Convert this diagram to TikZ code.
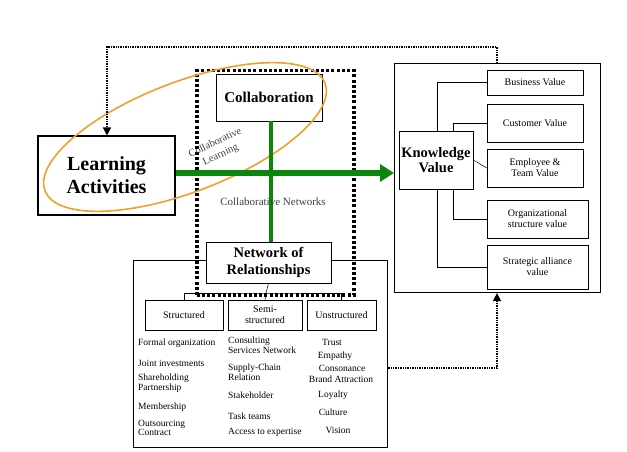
\documentclass[tikz,border=0pt]{standalone}
\usepackage{fontspec}
\setmainfont{Liberation Serif}
\usetikzlibrary{arrows.meta,shapes.geometric}
\definecolor{dg}{RGB}{10,135,10}
\definecolor{org}{RGB}{240,160,40}
\begin{document}
\begin{tikzpicture}[x=1pt,y=-1pt,
 box/.style={draw,line width=0.6pt,inner sep=0pt},
 bx/.style={draw,line width=1.1pt,inner sep=0pt},
 sm/.style={font=\fontsize{9.5}{9.5}\selectfont,align=left,anchor=west,inner sep=0pt},
 sb/.style={draw,line width=0.5pt,font=\fontsize{10}{11}\selectfont,align=center,inner sep=0pt},
 ga/.style={dg,line width=6.5pt,-{Triangle[length=14pt,width=17pt]}},
 ga2/.style={dg,line width=3.5pt,-{Triangle[length=9pt,width=11pt]}},
 dot/.style={densely dotted,line width=1.4pt}]
\useasboundingbox (0,0) rectangle (627,452);
% Knowledge value area
\node[bx,minimum width=206,minimum height=229,anchor=north west] (kvb) at (394,63) {};
\node[box,minimum width=74,minimum height=58,font=\bfseries\fontsize{14.5}{15.5}\selectfont,align=center] (kv) at (436,160) {Knowledge\\Value};
\node[sb,minimum width=96,minimum height=25] (bv) at (535,82.5) {Business Value};
\node[sb,minimum width=96,minimum height=38] (cv) at (535,123) {Customer Value};
\node[sb,minimum width=96,minimum height=38] (ev) at (535,168) {Employee \&\\Team Value};
\node[sb,minimum width=101,minimum height=38] (ov) at (537.5,219) {Organizational\\structure value};
\node[sb,minimum width=101,minimum height=44] (sv) at (537.5,267) {Strategic alliance\\value};
\draw[line width=0.5pt] (kv.north -| 437,0) |- (bv.west);
\draw[line width=0.5pt] (kv.north -| 453,0) |- (cv.west);
\draw[line width=0.5pt] (kv.east) -- (ev.west);
\draw[line width=0.5pt] (kv.south -| 453,0) |- (ov.west);
\draw[line width=0.5pt] (kv.south -| 437,0) |- (sv.west);
% Bottom box
\node[bx,minimum width=254,minimum height=187,anchor=north west] (nb) at (133,260) {};
% dotted rectangle
\node[draw,dash pattern=on 3pt off 2.2pt,line width=3.5pt,minimum width=157,minimum height=224,anchor=north west,inner sep=0pt] (dr) at (195,69) {};
\node[box,fill=white,minimum width=106,minimum height=47,font=\bfseries\fontsize{15}{16}\selectfont] (col) at (269,97.5) {Collaboration};
\node[box,fill=white,minimum width=125,minimum height=41,font=\bfseries\fontsize{14.5}{17}\selectfont,align=center] (nr) at (268.5,262.5) {Network of\\Relationships};
\node[bx,minimum width=137,minimum height=79,font=\bfseries\fontsize{20}{23}\selectfont,align=center] (la) at (106.5,175.5) {Learning\\Activities};
\node[sb,minimum width=78,minimum height=30] (st) at (184,315) {Structured};
\node[sb,minimum width=74,minimum height=30] (ss) at (265,315) {Semi-\\structured};
\node[sb,minimum width=69,minimum height=30] (us) at (341.5,315) {Unstructured};
\coordinate (j) at (266,293);
\draw[line width=0.5pt] (nr.south) -- (j);
\draw[line width=0.5pt] (st.north) |- (j) -| (us.north);
\draw[line width=0.5pt] (j) -- (ss.north);
% lists
\node[sm] (a1) at (138,343) {Formal organization};
\node[sm] (a2) at (138,363) {Joint investments};
\node[sm,font=\fontsize{9.5}{8}\selectfont] (a3) at (138,383) {Shareholding\\Partnership};
\node[sm] (a4) at (138,407) {Membership};
\node[sm,font=\fontsize{9.5}{8}\selectfont] (a5) at (138,428) {Outsourcing\\Contract};
\node[sm,font=\fontsize{9.5}{8}\selectfont] (b1) at (228,345) {Consulting\\Services Network};
\node[sm,font=\fontsize{9.5}{8}\selectfont] (b2) at (228,372) {Supply-Chain\\Relation};
\node[sm] (b3) at (228,395) {Stakeholder};
\node[sm] (b4) at (228,416) {Task teams};
\node[sm] (b5) at (228,432) {Access to expertise};
\node[sm,anchor=center] (c1) at (332,342) {Trust};
\node[sm,anchor=center] (c2) at (335,356) {Empathy};
\node[sm,anchor=center] (c3) at (342,368) {Consonance};
\node[sm,anchor=center] (c4) at (341,379) {Brand Attraction};
\node[sm,anchor=center] (c5) at (333,395) {Loyalty};
\node[sm,anchor=center] (c6) at (333,412) {Culture};
\node[sm,anchor=center] (c7) at (338,430) {Vision};
% ellipse
\node[draw=org,line width=1.6pt,ellipse,minimum width=300,minimum height=110,rotate=21,inner sep=0pt] (el) at (185,137) {};
% green arrows
\coordinate (x) at (271,173);
\draw[ga] (la.east|-x) -- (kvb.west|-x);
\draw[ga2] (col.south-|x) -- ([yshift=-6]x);
\draw[ga2] (nr.north-|x) -- ([yshift=6]x);
\node[font=\fontsize{11}{11}\selectfont,text=black!75] (cn) at (273,202) {Collaborative Networks};
\node[font=\fontsize{10.5}{13}\selectfont,text=black!75,rotate=25,align=center] (cl) at (218,149) {Collaborative\\Learning};
% dotted feedback
\coordinate (t1) at (497,47);
\draw[dot,-{Triangle[length=8pt,width=8pt]}] (kvb.north-|t1) -- (t1) -| (la.north-|107,0);
\coordinate (t2) at (497,368);
\draw[dot,-{Triangle[length=8pt,width=8pt]}] (nb.east|-t2) -- (t2) -- (kvb.south-|t2);
\end{tikzpicture}
\end{document}
